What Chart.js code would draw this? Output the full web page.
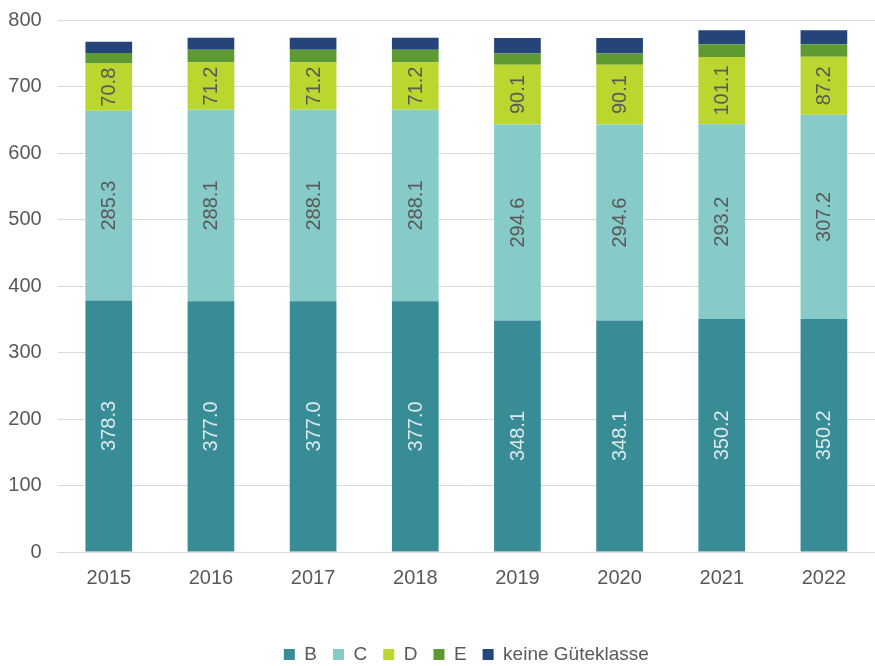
<!DOCTYPE html>
<html>
<head>
<meta charset="utf-8">
<script src="https://cdn.jsdelivr.net/npm/chart.js@4.4.1/dist/chart.umd.min.js"></script>
<style>
  html, body { margin: 0; padding: 0; background: #ffffff; }
  #wrap { width: 875px; height: 666px; position: relative; }
</style>
</head>
<body>
<div id="wrap"><canvas id="c" width="875" height="666"></canvas></div>
<script>
const categories = ['2015', '2016', '2017', '2018', '2019', '2020', '2021', '2022'];
const seriesNames = ['B', 'C', 'D', 'E', 'keine Güteklasse'];
const valuesB = [378.3, 377.0, 377.0, 377.0, 348.1, 348.1, 350.2, 350.2];
const valuesC = [285.3, 288.1, 288.1, 288.1, 294.6, 294.6, 293.2, 307.2];
const valuesD = [70.8, 71.2, 71.2, 71.2, 90.1, 90.1, 101.1, 87.2];
const valuesE = [16, 19, 19, 19, 17, 17, 19, 19];
const valuesKeine = [17, 18, 18, 18, 23, 23, 21, 21];
const yTicks = [0, 100, 200, 300, 400, 500, 600, 700, 800];

const colors = ['#378C96', '#86CBC8', '#BCD630', '#5E9A32', '#25457A'];
const labelColors = ['#dfeaeb', '#595959', '#595959', null, null];
const FONT = '"Liberation Sans", Arial, sans-serif';

const labelPlugin = {
  id: 'segLabels',
  afterDatasetsDraw(chart) {
    const ctx = chart.ctx;
    chart.data.datasets.forEach((ds, di) => {
      if (!labelColors[di]) return;
      const meta = chart.getDatasetMeta(di);
      meta.data.forEach((bar, i) => {
        const p = bar.getProps(['x', 'y', 'base'], true);
        const cy = (p.y + p.base) / 2;
        ctx.save();
        ctx.translate(p.x, cy);
        ctx.rotate(-Math.PI / 2);
        ctx.fillStyle = labelColors[di];
        ctx.font = '20px ' + FONT;
        ctx.textAlign = 'center';
        ctx.textBaseline = 'middle';
        ctx.fillText(ds.data[i].toFixed(1), 0, 1);
        ctx.restore();
      });
    });
  }
};

const allValues = [valuesB, valuesC, valuesD, valuesE, valuesKeine];

new Chart(document.getElementById('c'), {
  type: 'bar',
  data: {
    labels: categories,
    datasets: allValues.map((vals, k) => ({
      label: seriesNames[k],
      data: vals,
      backgroundColor: colors[k],
      borderWidth: 0,
      barPercentage: 0.457,
      categoryPercentage: 1.0
    }))
  },
  options: {
    responsive: false,
    animation: false,
    devicePixelRatio: 1,
    layout: { padding: { top: 20, left: 0, right: 0, bottom: -8 } },
    scales: {
      x: {
        stacked: true,
        grid: { display: false, drawTicks: false },
        border: { display: true, color: '#d9d9d9', width: 1 },
        ticks: { color: '#595959', font: { family: FONT, size: 20 }, padding: 14 },
        afterFit: (scale) => { scale.height += 25; }
      },
      y: {
        stacked: true,
        min: 0,
        max: 800,
        afterBuildTicks: (scale) => { scale.ticks = yTicks.map(v => ({ value: v })); },
        afterFit: (scale) => { scale.width = 57.7; scale.paddingTop = 0; },
        grid: { color: '#d9d9d9', lineWidth: 1, drawTicks: false },
        border: { display: false },
        ticks: { color: '#595959', font: { family: FONT, size: 20 }, padding: 16 }
      }
    },
    plugins: {
      legend: {
        position: 'bottom',
        fullSize: false,
        labels: {
          color: '#595959',
          font: { family: FONT, size: 19 },
          boxWidth: 11,
          boxHeight: 11,
          padding: 16
        }
      },
      tooltip: { enabled: false }
    }
  },
  plugins: [labelPlugin]
});
</script>
</body>
</html>
